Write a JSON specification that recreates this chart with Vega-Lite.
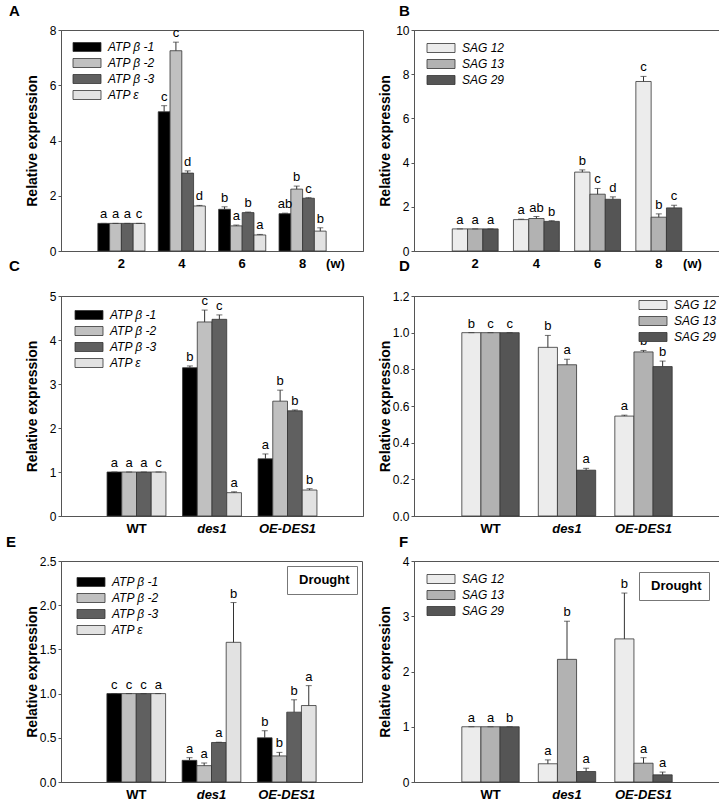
{
  "$schema": "https://vega.github.io/schema/vega-lite/v6.json",
  "padding": {"left": 5, "top": 3, "right": 0, "bottom": 0},
  "bounds": "flush",
  "columns": 2,
  "spacing": {"column": 51, "row": 45},
  "resolve": {"scale": {"x": "independent", "y": "independent", "xOffset": "independent", "fill": "independent", "stroke": "independent"}, "legend": {"fill": "independent", "stroke": "independent"}},
  "datasets": {
    "atpWeek": [
      {"week": "2", "gene": "ATP β -1", "value": 1.0, "upper": 1.0, "letter": "a"},
      {"week": "2", "gene": "ATP β -2", "value": 1.0, "upper": 1.0, "letter": "a"},
      {"week": "2", "gene": "ATP β -3", "value": 1.0, "upper": 1.0, "letter": "a"},
      {"week": "2", "gene": "ATP ε", "value": 1.0, "upper": 1.0, "letter": "c"},
      {"week": "4", "gene": "ATP β -1", "value": 5.04, "upper": 5.26, "letter": "c"},
      {"week": "4", "gene": "ATP β -2", "value": 7.25, "upper": 7.56, "letter": "c"},
      {"week": "4", "gene": "ATP β -3", "value": 2.82, "upper": 2.9, "letter": "d"},
      {"week": "4", "gene": "ATP ε", "value": 1.63, "upper": 1.65, "letter": "d"},
      {"week": "6", "gene": "ATP β -1", "value": 1.51, "upper": 1.6, "letter": "b"},
      {"week": "6", "gene": "ATP β -2", "value": 0.91, "upper": 0.94, "letter": "a"},
      {"week": "6", "gene": "ATP β -3", "value": 1.39, "upper": 1.41, "letter": "b"},
      {"week": "6", "gene": "ATP ε", "value": 0.58, "upper": 0.6, "letter": "a"},
      {"week": "8", "gene": "ATP β -1", "value": 1.35, "upper": 1.37, "letter": "ab"},
      {"week": "8", "gene": "ATP β -2", "value": 2.24, "upper": 2.35, "letter": "b"},
      {"week": "8", "gene": "ATP β -3", "value": 1.91, "upper": 1.93, "letter": "c"},
      {"week": "8", "gene": "ATP ε", "value": 0.72, "upper": 0.84, "letter": "b"}
    ],
    "sagWeek": [
      {"week": "2", "gene": "SAG 12", "value": 1.0, "upper": 1.0, "letter": "a"},
      {"week": "2", "gene": "SAG 13", "value": 1.0, "upper": 1.0, "letter": "a"},
      {"week": "2", "gene": "SAG 29", "value": 1.0, "upper": 1.0, "letter": "a"},
      {"week": "4", "gene": "SAG 12", "value": 1.42, "upper": 1.44, "letter": "a"},
      {"week": "4", "gene": "SAG 13", "value": 1.47, "upper": 1.56, "letter": "ab"},
      {"week": "4", "gene": "SAG 29", "value": 1.34, "upper": 1.37, "letter": "b"},
      {"week": "6", "gene": "SAG 12", "value": 3.57, "upper": 3.67, "letter": "b"},
      {"week": "6", "gene": "SAG 13", "value": 2.57, "upper": 2.83, "letter": "c"},
      {"week": "6", "gene": "SAG 29", "value": 2.34, "upper": 2.45, "letter": "d"},
      {"week": "8", "gene": "SAG 12", "value": 7.67, "upper": 7.9, "letter": "c"},
      {"week": "8", "gene": "SAG 13", "value": 1.53, "upper": 1.68, "letter": "b"},
      {"week": "8", "gene": "SAG 29", "value": 1.95, "upper": 2.07, "letter": "c"}
    ],
    "atpGeno": [
      {"line": "WT", "gene": "ATP β -1", "value": 1.0, "upper": 1.0, "letter": "a"},
      {"line": "WT", "gene": "ATP β -2", "value": 1.0, "upper": 1.0, "letter": "a"},
      {"line": "WT", "gene": "ATP β -3", "value": 1.0, "upper": 1.0, "letter": "a"},
      {"line": "WT", "gene": "ATP ε", "value": 1.0, "upper": 1.0, "letter": "c"},
      {"line": "des1", "gene": "ATP β -1", "value": 3.37, "upper": 3.41, "letter": "b"},
      {"line": "des1", "gene": "ATP β -2", "value": 4.41, "upper": 4.68, "letter": "c"},
      {"line": "des1", "gene": "ATP β -3", "value": 4.47, "upper": 4.57, "letter": "c"},
      {"line": "des1", "gene": "ATP ε", "value": 0.53, "upper": 0.55, "letter": "a"},
      {"line": "OE-DES1", "gene": "ATP β -1", "value": 1.3, "upper": 1.41, "letter": "a"},
      {"line": "OE-DES1", "gene": "ATP β -2", "value": 2.61, "upper": 2.86, "letter": "b"},
      {"line": "OE-DES1", "gene": "ATP β -3", "value": 2.39, "upper": 2.41, "letter": "b"},
      {"line": "OE-DES1", "gene": "ATP ε", "value": 0.59, "upper": 0.62, "letter": "b"}
    ],
    "sagGeno": [
      {"line": "WT", "gene": "SAG 12", "value": 1.0, "upper": 1.0, "letter": "b"},
      {"line": "WT", "gene": "SAG 13", "value": 1.0, "upper": 1.0, "letter": "c"},
      {"line": "WT", "gene": "SAG 29", "value": 1.0, "upper": 1.0, "letter": "c"},
      {"line": "des1", "gene": "SAG 12", "value": 0.92, "upper": 0.985, "letter": "b"},
      {"line": "des1", "gene": "SAG 13", "value": 0.825, "upper": 0.855, "letter": "a"},
      {"line": "des1", "gene": "SAG 29", "value": 0.25, "upper": 0.26, "letter": "a"},
      {"line": "OE-DES1", "gene": "SAG 12", "value": 0.545, "upper": 0.55, "letter": "a"},
      {"line": "OE-DES1", "gene": "SAG 13", "value": 0.895, "upper": 0.903, "letter": "b"},
      {"line": "OE-DES1", "gene": "SAG 29", "value": 0.815, "upper": 0.845, "letter": "b"}
    ],
    "atpDrought": [
      {"line": "WT", "gene": "ATP β -1", "value": 1.0, "upper": 1.0, "letter": "c", "condition": "Drought"},
      {"line": "WT", "gene": "ATP β -2", "value": 1.0, "upper": 1.0, "letter": "c", "condition": "Drought"},
      {"line": "WT", "gene": "ATP β -3", "value": 1.0, "upper": 1.0, "letter": "c", "condition": "Drought"},
      {"line": "WT", "gene": "ATP ε", "value": 1.0, "upper": 1.0, "letter": "a", "condition": "Drought"},
      {"line": "des1", "gene": "ATP β -1", "value": 0.245, "upper": 0.275, "letter": "a", "condition": "Drought"},
      {"line": "des1", "gene": "ATP β -2", "value": 0.185, "upper": 0.215, "letter": "a", "condition": "Drought"},
      {"line": "des1", "gene": "ATP β -3", "value": 0.447, "upper": 0.45, "letter": "a", "condition": "Drought"},
      {"line": "des1", "gene": "ATP ε", "value": 1.58, "upper": 2.03, "letter": "b", "condition": "Drought"},
      {"line": "OE-DES1", "gene": "ATP β -1", "value": 0.5, "upper": 0.58, "letter": "b", "condition": "Drought"},
      {"line": "OE-DES1", "gene": "ATP β -2", "value": 0.295, "upper": 0.335, "letter": "b", "condition": "Drought"},
      {"line": "OE-DES1", "gene": "ATP β -3", "value": 0.79, "upper": 0.93, "letter": "b", "condition": "Drought"},
      {"line": "OE-DES1", "gene": "ATP ε", "value": 0.865, "upper": 1.09, "letter": "a", "condition": "Drought"}
    ],
    "sagDrought": [
      {"line": "WT", "gene": "SAG 12", "value": 1.0, "upper": 1.0, "letter": "a", "condition": "Drought"},
      {"line": "WT", "gene": "SAG 13", "value": 1.0, "upper": 1.0, "letter": "a", "condition": "Drought"},
      {"line": "WT", "gene": "SAG 29", "value": 1.0, "upper": 1.0, "letter": "b", "condition": "Drought"},
      {"line": "des1", "gene": "SAG 12", "value": 0.33, "upper": 0.4, "letter": "a", "condition": "Drought"},
      {"line": "des1", "gene": "SAG 13", "value": 2.22, "upper": 2.91, "letter": "b", "condition": "Drought"},
      {"line": "des1", "gene": "SAG 29", "value": 0.19, "upper": 0.25, "letter": "a", "condition": "Drought"},
      {"line": "OE-DES1", "gene": "SAG 12", "value": 2.59, "upper": 3.42, "letter": "b", "condition": "Drought"},
      {"line": "OE-DES1", "gene": "SAG 13", "value": 0.34, "upper": 0.44, "letter": "a", "condition": "Drought"},
      {"line": "OE-DES1", "gene": "SAG 29", "value": 0.13, "upper": 0.18, "letter": "a", "condition": "Drought"}
    ]
  },
  "concat": [
    {
      "width": 302, "height": 221,
      "data": {"name": "atpWeek"},
      "title": {"text": "A", "dx": -52, "offset": 5},
      "encoding": {
        "x": {"field": "week", "type": "nominal", "sort": null, "scale": {"paddingInner": 0.22, "paddingOuter": 0.61},
              "axis": {"title": "(w)", "titleX": 274, "titleY": 6, "titleAlign": "center", "titleBaseline": "top"}},
        "xOffset": {"field": "gene", "type": "nominal", "sort": null, "scale": {"paddingInner": 0, "paddingOuter": 0}},
        "y": {"field": "value", "type": "quantitative", "scale": {"domain": [0, 8], "nice": false},
              "axis": {"values": [0, 2, 4, 6, 8], "title": "Relative expression"}}
      },
      "layer": [
        {"mark": {"type": "bar", "stroke": "#333", "strokeWidth": 0.8},
         "encoding": {"fill": {"field": "gene", "type": "nominal", "sort": null,
           "scale": {"domain": ["ATP β -1", "ATP β -2", "ATP β -3", "ATP ε"], "range": ["#000000", "#c0c0c0", "#606060", "#e2e2e2"]},
           "legend": {"orient": "top-left", "offset": 11, "title": null, "symbolType": "M-1,-0.9H4.6V0.9H-1Z"}}}},
        {"mark": {"type": "rule", "color": "#333", "strokeWidth": 1}, "encoding": {"y2": {"field": "upper"}}},
        {"mark": {"type": "tick", "color": "#333", "size": 6, "thickness": 1}, "encoding": {"y": {"field": "upper", "type": "quantitative"}}},
        {"mark": {"type": "text", "baseline": "bottom", "dy": -2, "fontSize": 13, "color": "#000"}, "encoding": {"y": {"field": "upper", "type": "quantitative"}, "text": {"field": "letter"}}}
      ]
    },
    {
      "width": 306, "height": 221,
      "data": {"name": "sagWeek"},
      "title": {"text": "B", "dx": -15, "offset": 5},
      "encoding": {
        "x": {"field": "week", "type": "nominal", "sort": null, "scale": {"paddingInner": 0.25, "paddingOuter": 0.625},
              "axis": {"title": "(w)", "titleX": 278, "titleY": 6, "titleAlign": "center", "titleBaseline": "top"}},
        "xOffset": {"field": "gene", "type": "nominal", "sort": null, "scale": {"paddingInner": 0, "paddingOuter": 0}},
        "y": {"field": "value", "type": "quantitative", "scale": {"domain": [0, 10], "nice": false},
              "axis": {"values": [0, 2, 4, 6, 8, 10], "title": "Relative expression"}}
      },
      "layer": [
        {"mark": {"type": "bar", "stroke": "#333", "strokeWidth": 0.8},
         "encoding": {"fill": {"field": "gene", "type": "nominal", "sort": null,
           "scale": {"domain": ["SAG 12", "SAG 13", "SAG 29"], "range": ["#ececec", "#b2b2b2", "#555555"]},
           "legend": {"orient": "top-left", "offset": 12, "title": null, "symbolType": "M-1,-0.9H4.6V0.9H-1Z"}}}},
        {"mark": {"type": "rule", "color": "#333", "strokeWidth": 1}, "encoding": {"y2": {"field": "upper"}}},
        {"mark": {"type": "tick", "color": "#333", "size": 6, "thickness": 1}, "encoding": {"y": {"field": "upper", "type": "quantitative"}}},
        {"mark": {"type": "text", "baseline": "bottom", "dy": -2, "fontSize": 13, "color": "#000"}, "encoding": {"y": {"field": "upper", "type": "quantitative"}, "text": {"field": "letter"}}}
      ]
    },
    {
      "width": 302, "height": 220,
      "data": {"name": "atpGeno"},
      "title": {"text": "C", "dx": -52, "offset": 16},
      "encoding": {
        "x": {"field": "line", "type": "nominal", "sort": null, "scale": {"paddingInner": 0.22, "paddingOuter": 0.61},
              "axis": {"title": null, "labelFontStyle": {"condition": {"test": "datum.value == 'WT'", "value": "normal"}, "value": "italic"}}},
        "xOffset": {"field": "gene", "type": "nominal", "sort": null, "scale": {"paddingInner": 0, "paddingOuter": 0}},
        "y": {"field": "value", "type": "quantitative", "scale": {"domain": [0, 5], "nice": false},
              "axis": {"values": [0, 1, 2, 3, 4, 5], "title": "Relative expression"}}
      },
      "layer": [
        {"mark": {"type": "bar", "stroke": "#333", "strokeWidth": 0.8},
         "encoding": {"fill": {"field": "gene", "type": "nominal", "sort": null,
           "scale": {"domain": ["ATP β -1", "ATP β -2", "ATP β -3", "ATP ε"], "range": ["#000000", "#c0c0c0", "#606060", "#e2e2e2"]},
           "legend": {"orient": "top-left", "offset": 13, "title": null, "symbolType": "M-1,-0.9H4.6V0.9H-1Z"}}}},
        {"mark": {"type": "rule", "color": "#333", "strokeWidth": 1}, "encoding": {"y2": {"field": "upper"}}},
        {"mark": {"type": "tick", "color": "#333", "size": 6, "thickness": 1}, "encoding": {"y": {"field": "upper", "type": "quantitative"}}},
        {"mark": {"type": "text", "baseline": "bottom", "dy": -2, "fontSize": 13, "color": "#000"}, "encoding": {"y": {"field": "upper", "type": "quantitative"}, "text": {"field": "letter"}}}
      ]
    },
    {
      "width": 306, "height": 220,
      "data": {"name": "sagGeno"},
      "title": {"text": "D", "dx": -15, "offset": 16},
      "encoding": {
        "x": {"field": "line", "type": "nominal", "sort": null, "scale": {"paddingInner": 0.25, "paddingOuter": 0.625},
              "axis": {"title": null, "labelFontStyle": {"condition": {"test": "datum.value == 'WT'", "value": "normal"}, "value": "italic"}}},
        "xOffset": {"field": "gene", "type": "nominal", "sort": null, "scale": {"paddingInner": 0, "paddingOuter": 0}},
        "y": {"field": "value", "type": "quantitative", "scale": {"domain": [0, 1.2], "nice": false},
              "axis": {"values": [0, 0.2, 0.4, 0.6, 0.8, 1.0, 1.2], "format": ".1f", "title": "Relative expression"}}
      },
      "layer": [
        {"mark": {"type": "bar", "stroke": "#333", "strokeWidth": 0.8},
         "encoding": {"fill": {"field": "gene", "type": "nominal", "sort": null,
           "scale": {"domain": ["SAG 12", "SAG 13", "SAG 29"], "range": ["#ececec", "#b2b2b2", "#555555"]},
           "legend": {"orient": "top-right", "offset": 3, "title": null, "symbolType": "M-1,-0.9H4.6V0.9H-1Z"}}}},
        {"mark": {"type": "rule", "color": "#333", "strokeWidth": 1}, "encoding": {"y2": {"field": "upper"}}},
        {"mark": {"type": "tick", "color": "#333", "size": 6, "thickness": 1}, "encoding": {"y": {"field": "upper", "type": "quantitative"}}},
        {"mark": {"type": "text", "baseline": "bottom", "dy": -2, "fontSize": 13, "color": "#000"}, "encoding": {"y": {"field": "upper", "type": "quantitative"}, "text": {"field": "letter"}}}
      ]
    },
    {
      "width": 301, "height": 221,
      "data": {"name": "atpDrought"},
      "title": {"text": "E", "dx": -55, "offset": 5},
      "encoding": {
        "x": {"field": "line", "type": "nominal", "sort": null, "scale": {"paddingInner": 0.22, "paddingOuter": 0.61},
              "axis": {"title": null, "labelFontStyle": {"condition": {"test": "datum.value == 'WT'", "value": "normal"}, "value": "italic"}}},
        "xOffset": {"field": "gene", "type": "nominal", "sort": null, "scale": {"paddingInner": 0, "paddingOuter": 0}},
        "y": {"field": "value", "type": "quantitative", "scale": {"domain": [0, 2.5], "nice": false},
              "axis": {"values": [0, 0.5, 1.0, 1.5, 2.0, 2.5], "format": ".1f", "title": "Relative expression"}}
      },
      "layer": [
        {"mark": {"type": "bar", "strokeWidth": 0.8},
         "encoding": {
           "fill": {"field": "gene", "type": "nominal", "sort": null,
             "scale": {"domain": ["ATP β -1", "ATP β -2", "ATP β -3", "ATP ε"], "range": ["#000000", "#c0c0c0", "#606060", "#e2e2e2"]},
             "legend": {"orient": "top-left", "offset": 15, "title": null, "symbolType": "M-1,-0.9H4.6V0.9H-1Z"}},
           "stroke": {"field": "condition", "type": "nominal", "scale": {"range": ["#333333"]},
             "legend": {"orient": "top-right", "offset": 5, "title": null, "symbolType": "circle", "symbolSize": 1, "symbolStrokeWidth": 0, "symbolOpacity": 0, "labelOffset": -8, "labelFontStyle": "normal", "labelFontWeight": "bold", "labelFontSize": 13, "strokeColor": "#777", "padding": 7}}
         }},
        {"mark": {"type": "rule", "color": "#333", "strokeWidth": 1}, "encoding": {"y2": {"field": "upper"}}},
        {"mark": {"type": "tick", "color": "#333", "size": 6, "thickness": 1}, "encoding": {"y": {"field": "upper", "type": "quantitative"}}},
        {"mark": {"type": "text", "baseline": "bottom", "dy": -2, "fontSize": 13, "color": "#000"}, "encoding": {"y": {"field": "upper", "type": "quantitative"}, "text": {"field": "letter"}}}
      ]
    },
    {
      "width": 306, "height": 221,
      "data": {"name": "sagDrought"},
      "title": {"text": "F", "dx": -15, "offset": 5},
      "encoding": {
        "x": {"field": "line", "type": "nominal", "sort": null, "scale": {"paddingInner": 0.25, "paddingOuter": 0.625},
              "axis": {"title": null, "labelFontStyle": {"condition": {"test": "datum.value == 'WT'", "value": "normal"}, "value": "italic"}}},
        "xOffset": {"field": "gene", "type": "nominal", "sort": null, "scale": {"paddingInner": 0, "paddingOuter": 0}},
        "y": {"field": "value", "type": "quantitative", "scale": {"domain": [0, 4], "nice": false},
              "axis": {"values": [0, 1, 2, 3, 4], "title": "Relative expression"}}
      },
      "layer": [
        {"mark": {"type": "bar", "strokeWidth": 0.8},
         "encoding": {
           "fill": {"field": "gene", "type": "nominal", "sort": null,
             "scale": {"domain": ["SAG 12", "SAG 13", "SAG 29"], "range": ["#ececec", "#b2b2b2", "#555555"]},
             "legend": {"orient": "top-left", "offset": 12, "title": null, "symbolType": "M-1,-0.9H4.6V0.9H-1Z"}},
           "stroke": {"field": "condition", "type": "nominal", "scale": {"range": ["#333333"]},
             "legend": {"orient": "top-right", "offset": 11, "title": null, "symbolType": "circle", "symbolSize": 1, "symbolStrokeWidth": 0, "symbolOpacity": 0, "labelOffset": -8, "labelFontStyle": "normal", "labelFontWeight": "bold", "labelFontSize": 13, "strokeColor": "#777", "padding": 7}}
         }},
        {"mark": {"type": "rule", "color": "#333", "strokeWidth": 1}, "encoding": {"y2": {"field": "upper"}}},
        {"mark": {"type": "tick", "color": "#333", "size": 6, "thickness": 1}, "encoding": {"y": {"field": "upper", "type": "quantitative"}}},
        {"mark": {"type": "text", "baseline": "bottom", "dy": -2, "fontSize": 13, "color": "#000"}, "encoding": {"y": {"field": "upper", "type": "quantitative"}, "text": {"field": "letter"}}}
      ]
    }
  ],
  "config": {
    "font": "Liberation Sans",
    "view": {"stroke": "#555", "strokeWidth": 1},
    "axis": {"domainColor": "#555", "tickColor": "#555", "labelColor": "#000", "titleColor": "#000", "grid": false,
             "labelFontSize": 12, "titleFontSize": 14, "titleFontWeight": "bold"},
    "axisY": {"tickSize": 3, "labelPadding": 2, "titlePadding": 5, "minExtent": 17, "maxExtent": 17},
    "axisX": {"ticks": false, "labelFontWeight": "bold", "labelFontSize": 13, "labelAngle": 0, "labelPadding": 6, "titleFontSize": 13},
    "legend": {"labelFontSize": 12, "labelFontStyle": "italic", "labelColor": "#000", "symbolSize": 100, "symbolStrokeColor": "#333", "symbolStrokeWidth": 0.8, "rowPadding": 2, "labelOffset": 24},
    "title": {"fontSize": 15, "fontWeight": "bold", "anchor": "start", "frame": "group", "baseline": "alphabetic"}
  }
}
